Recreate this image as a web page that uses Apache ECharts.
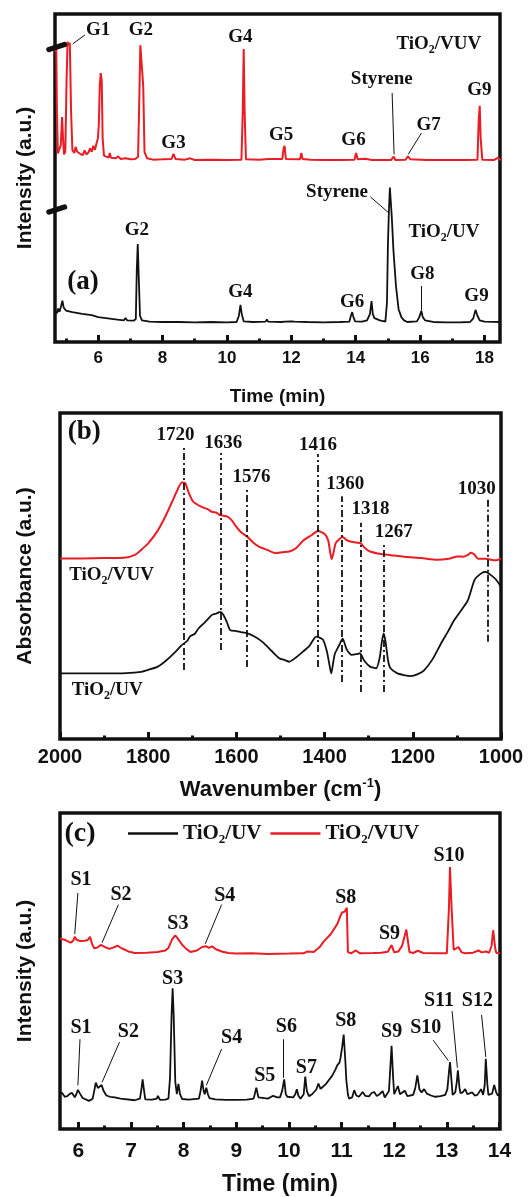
<!DOCTYPE html>
<html>
<head>
<meta charset="utf-8">
<script src="https://cdn.jsdelivr.net/npm/echarts@6/dist/echarts.min.js"></script>
<style>
  html, body { margin: 0; padding: 0; background: #fff; }
  #chart { width: 528px; height: 1197px; }
</style>
</head>
<body>
<div id="chart"></div>
<script>
// ---------- (a) GC chromatograms: [time (min), intensity (a.u.)] ----------
const gcVuv = [
  [4.66, 88.5], [4.70, 89.6], [4.72, 70], [4.75, 57.5], [4.80, 57], [4.84, 60], [4.88, 68.6], [4.91, 62],
  [4.94, 57.2], [4.98, 58], [5.02, 80], [5.05, 91.5], [5.09, 90.5], [5.12, 91.2], [5.16, 70], [5.20, 58.5],
  [5.26, 57.6], [5.30, 59.5], [5.35, 58], [5.45, 57.3], [5.52, 57], [5.58, 58.4], [5.63, 57.2], [5.70, 57.8],
  [5.75, 59], [5.80, 58], [5.85, 59.8], [5.90, 58.6], [5.95, 60.5], [5.99, 62], [6.02, 66], [6.05, 78],
  [6.08, 82], [6.11, 80], [6.14, 62], [6.18, 56.8], [6.25, 56.5], [6.33, 56.2], [6.36, 57.6], [6.40, 56.2],
  [6.55, 56], [6.62, 56.6], [6.70, 55.8], [6.85, 56], [7.0, 55.7], [7.15, 55.8], [7.24, 56.5], [7.28, 75],
  [7.31, 90.5], [7.37, 90.5], [7.40, 78], [7.44, 58], [7.52, 56], [7.7, 55.6], [8.0, 55.7], [8.28, 55.8],
  [8.34, 57.4], [8.40, 55.8], [8.7, 55.6], [8.86, 56], [9.0, 55.5], [9.5, 55.6], [10.0, 55.5], [10.45, 55.6],
  [10.49, 70], [10.52, 89.3], [10.55, 70], [10.59, 55.7], [11.0, 55.6], [11.3, 55.8], [11.72, 55.8],
  [11.76, 59], [11.79, 59.8], [11.83, 55.8], [12.27, 55.7], [12.31, 57.6], [12.35, 55.8], [12.6, 55.6],
  [13.0, 55.5], [13.5, 55.5], [13.96, 55.6], [14.01, 57.6], [14.06, 55.7], [14.3, 55.9], [14.5, 55.5],
  [15.1, 55.5], [15.18, 56.5], [15.23, 55.5], [15.55, 55.6], [15.62, 56.6], [15.7, 55.7], [16.2, 55.5],
  [16.8, 55.5], [17.4, 55.5], [17.78, 55.6], [17.82, 68], [17.85, 72], [17.88, 62], [17.93, 55.6],
  [18.3, 55.5], [18.42, 56.2], [18.5, 55.4]
];
const gcUv = [
  [4.66, 9.5], [4.72, 8.8], [4.76, 10.2], [4.80, 9.2], [4.85, 11], [4.89, 12.6], [4.93, 10.5], [5.0, 9.6],
  [5.2, 9.1], [5.5, 8.6], [5.8, 8.2], [6.0, 7.6], [6.3, 7.2], [6.6, 6.8], [6.8, 6.6], [6.85, 7.3], [6.9, 6.6],
  [7.1, 6.5], [7.17, 7], [7.2, 22], [7.23, 29.9], [7.26, 20], [7.30, 8], [7.36, 6.6], [7.6, 6.2], [8.0, 6.1],
  [8.5, 6.1], [9.0, 6.0], [9.5, 6.1], [10.0, 6.0], [10.3, 6.1], [10.37, 8], [10.42, 11.3], [10.46, 8.5],
  [10.52, 6.3], [10.8, 6.1], [11.2, 6.2], [11.24, 6.9], [11.28, 6.2], [11.7, 6.1], [11.75, 6.6], [11.8, 6.2],
  [12.0, 6.3], [12.05, 6.7], [12.1, 6.2], [12.5, 6.1], [13.0, 6.0], [13.5, 6.1], [13.8, 6.2], [13.85, 8],
  [13.89, 9.1], [13.93, 7.5], [13.98, 6.3], [14.2, 6.2], [14.35, 6.6], [14.38, 6.3], [14.44, 8.5],
  [14.49, 12.5], [14.53, 8.5], [14.58, 7.3], [14.75, 6.6], [14.92, 6.2], [14.97, 12], [15.0, 30],
  [15.03, 40], [15.06, 47.1], [15.09, 47.1], [15.12, 38], [15.17, 28], [15.25, 17], [15.33, 10],
  [15.42, 7.5], [15.5, 6.6], [15.6, 6.1], [15.9, 6.3], [15.97, 7.5], [16.01, 7.8], [16.04, 9.5],
  [16.08, 7.6], [16.15, 6.6], [16.4, 6.1], [16.8, 6.0], [17.2, 6.0], [17.55, 6.1], [17.65, 7.2],
  [17.72, 9.8], [17.78, 8], [17.85, 6.6], [18.0, 6.2], [18.5, 6.1]
];

// ---------- (b) FTIR spectra: [wavenumber (cm-1), absorbance (a.u.)] ----------
const irVuv = [
  [2000, 55.4], [1950, 55.4], [1900, 55.5], [1855, 55.6], [1830, 56.5], [1816, 58], [1800, 60], [1778, 64],
  [1762, 68], [1747, 72.4], [1735, 76], [1724, 78.7], [1716, 78.5], [1708, 75.5], [1698, 72.8], [1679, 71.2],
  [1665, 70.5], [1656, 69.7], [1645, 69.4], [1637, 68.7], [1620, 68.2], [1610, 67], [1603, 65.6],
  [1590, 63.5], [1575, 62], [1562, 60.3], [1549, 59], [1530, 58], [1511, 57], [1495, 57.3], [1480, 57.5],
  [1465, 58.5], [1449, 60.8], [1430, 62.5], [1415, 63.8], [1400, 62.9], [1392, 61], [1387, 57],
  [1384, 55.2], [1380, 57], [1375, 60], [1365, 61.5], [1359, 62], [1350, 61], [1339, 60.5], [1325, 60.2],
  [1318, 60], [1308, 58.5], [1297, 57.5], [1275, 56.8], [1250, 56.4], [1220, 55.9], [1180, 55.5],
  [1145, 55], [1115, 55.4], [1099, 56], [1085, 55.9], [1075, 56.5], [1068, 57.1], [1060, 56.5],
  [1052, 55.3], [1035, 55.3], [1020, 54.9], [1010, 54.8], [1000, 55.4]
];
const irUv = [
  [2000, 20.1], [1900, 20.1], [1850, 20.2], [1816, 20.6], [1800, 21.2], [1778, 22.2], [1760, 24],
  [1740, 26.5], [1724, 28.8], [1712, 30], [1705, 31.5], [1695, 32.2], [1686, 33.9], [1670, 36], [1656, 38],
  [1645, 38.5], [1637, 39], [1630, 38.2], [1622, 36], [1614, 33.4], [1600, 33.1], [1590, 32.8],
  [1575, 32.4], [1560, 31.5], [1541, 29.8], [1520, 27], [1503, 24.8], [1490, 24.2], [1480, 23.7],
  [1465, 25], [1449, 26.8], [1435, 28.5], [1419, 31.4], [1404, 30.5], [1395, 27], [1390, 23.5],
  [1385, 20.1], [1381, 23], [1377, 26], [1368, 28.5], [1359, 30.8], [1350, 27.5], [1339, 25.8],
  [1328, 26], [1320, 26.3], [1310, 24], [1297, 22.2], [1283, 21.7], [1275, 25], [1270, 30], [1266, 32.4],
  [1262, 30], [1256, 24], [1251, 21.8], [1236, 20.2], [1220, 19.6], [1205, 19.3], [1190, 19.8],
  [1175, 21], [1155, 24.5], [1136, 29.3], [1120, 33], [1106, 36.5], [1090, 39.5], [1075, 42.6],
  [1060, 48.8], [1048, 50.5], [1036, 51.3], [1025, 50.5], [1012, 49], [1000, 46.7]
];
const irBands = [1720, 1636, 1576, 1416, 1360, 1318, 1267, 1030];

// ---------- (c) GC chromatograms: [time (min), intensity (a.u.)] ----------
const gc2Vuv = [
  [5.65, 60.3], [5.75, 59.8], [5.85, 59], [5.90, 59.5], [5.93, 60.8], [5.97, 59.8], [6.04, 59.5],
  [6.12, 59.6], [6.18, 59.8], [6.22, 60.8], [6.26, 58.5], [6.30, 57.2], [6.36, 57.4], [6.43, 58.3],
  [6.50, 57.6], [6.59, 57], [6.66, 57.4], [6.74, 58], [6.82, 57.2], [6.95, 56.2], [7.07, 55.7], [7.3, 55.8],
  [7.5, 56], [7.65, 56.5], [7.71, 57.3], [7.78, 60], [7.84, 61.3], [7.90, 60], [7.97, 58.3], [8.05, 57],
  [8.13, 56], [8.25, 56.5], [8.35, 57.6], [8.43, 57.8], [8.48, 57.3], [8.54, 57.8], [8.62, 56.8],
  [8.74, 56.1], [8.85, 55.7], [8.99, 55.5], [9.3, 55.6], [9.6, 55.4], [10.0, 55.5], [10.28, 55.6],
  [10.35, 56.2], [10.47, 56], [10.58, 57.5], [10.66, 59.3], [10.80, 61.8], [10.92, 64.9], [10.98, 67.5],
  [11.01, 68.5], [11.06, 68.8], [11.10, 70], [11.12, 56], [11.18, 55.6], [11.27, 56.5], [11.35, 55.6],
  [11.6, 55.7], [11.75, 55.8], [11.88, 56.1], [11.95, 58.2], [12.0, 55.9], [12.08, 56.2], [12.15, 58],
  [12.23, 63.1], [12.29, 56], [12.36, 55.7], [12.45, 56.4], [12.55, 55.7], [12.8, 55.6], [13.0, 55.6],
  [13.04, 70], [13.06, 82.9], [13.09, 70], [13.13, 56.7], [13.22, 57.6], [13.28, 55.9], [13.35, 55.6],
  [13.5, 55.8], [13.6, 56.5], [13.66, 55.9], [13.75, 56.2], [13.8, 55.7], [13.85, 58], [13.88, 62.9],
  [13.92, 57], [13.94, 55.8], [14.01, 55.6]
];
const gc2Uv = [
  [5.65, 11.4], [5.69, 11.4], [5.74, 10.2], [5.79, 10.4], [5.84, 11.2], [5.88, 11.4], [5.93, 10], [5.96, 11],
  [5.99, 12.4], [6.03, 11.2], [6.08, 9.8], [6.2, 8.9], [6.27, 9.6], [6.30, 12], [6.33, 14.7], [6.37, 13],
  [6.40, 12.6], [6.44, 13.9], [6.48, 12], [6.53, 10.6], [6.6, 10.2], [6.69, 10], [6.8, 9.6], [7.07, 9.1],
  [7.17, 9.6], [7.2, 13], [7.22, 15.7], [7.24, 13], [7.27, 9.4], [7.4, 9.3], [7.49, 9.6], [7.51, 10.5],
  [7.55, 9.2], [7.65, 9.3], [7.71, 9.6], [7.74, 16], [7.77, 36], [7.79, 44.5], [7.81, 36], [7.84, 15],
  [7.87, 11], [7.90, 14.3], [7.93, 11], [7.97, 9.5], [8.1, 9.3], [8.29, 9.6], [8.32, 12], [8.35, 15.3],
  [8.38, 12], [8.4, 11], [8.43, 13.1], [8.46, 11], [8.49, 9.8], [8.6, 9.4], [8.8, 9.2], [9.0, 9.2],
  [9.2, 9.3], [9.33, 9.6], [9.38, 13.1], [9.42, 10], [9.45, 9.4], [9.6, 9.6], [9.7, 10.5], [9.78, 10],
  [9.83, 10], [9.87, 12], [9.91, 15.7], [9.94, 11], [9.97, 10.2], [10.08, 10], [10.12, 11], [10.15, 12.6],
  [10.18, 10.5], [10.22, 9.6], [10.28, 11], [10.31, 16.6], [10.34, 12], [10.38, 10.4], [10.44, 11],
  [10.47, 11.6], [10.52, 12.5], [10.56, 14.4], [10.6, 12.7], [10.64, 13.3], [10.7, 14.2], [10.76, 15.5],
  [10.82, 16.8], [10.88, 18.7], [10.92, 20.2], [10.96, 21], [10.98, 22.5], [11.01, 25.8], [11.04, 29.9],
  [11.07, 22], [11.09, 15.5], [11.12, 11], [11.14, 9.6], [11.2, 10], [11.24, 12.3], [11.28, 10.6],
  [11.33, 10.2], [11.4, 11.7], [11.45, 10.5], [11.52, 10.3], [11.57, 11.4], [11.62, 11.7], [11.67, 10.4],
  [11.72, 11], [11.78, 12], [11.82, 10], [11.85, 9.6], [11.9, 12], [11.95, 26.3], [11.98, 16], [12.0, 11],
  [12.04, 12.5], [12.07, 13.6], [12.11, 11], [12.14, 10.8], [12.2, 12.1], [12.25, 10.4], [12.3, 10.6],
  [12.36, 10.8], [12.4, 13], [12.44, 17], [12.48, 12.5], [12.52, 11.6], [12.57, 12.6], [12.62, 11.2],
  [12.7, 10.6], [12.78, 10.2], [12.88, 10.4], [12.97, 10.8], [13.01, 12.6], [13.04, 18], [13.06, 21.2],
  [13.09, 15], [13.11, 10.8], [13.16, 11.6], [13.19, 15], [13.21, 18.6], [13.24, 13], [13.26, 11.3],
  [13.3, 11.6], [13.35, 12.6], [13.39, 11], [13.42, 10.8], [13.48, 11.6], [13.53, 10.6], [13.58, 10.8],
  [13.65, 12.6], [13.69, 10.8], [13.72, 14], [13.74, 22.2], [13.77, 14], [13.79, 10.8], [13.86, 11.2],
  [13.9, 13.9], [13.94, 11.5], [13.97, 10.6], [14.01, 11]
];

// ---------- tick values ----------
const ticksA = [6, 8, 10, 12, 14, 16, 18];
const minorTicksA = [5, 7, 9, 11, 13, 15, 17];
const ticksB = [2000, 1800, 1600, 1400, 1200, 1000];
const minorTicksB = [1900, 1700, 1500, 1300, 1100];
const ticksC = [6, 7, 8, 9, 10, 11, 12, 13, 14];
const minorTicksC = [6.5, 7.5, 8.5, 9.5, 10.5, 11.5, 12.5, 13.5];

// ---------- peak names ----------
const peaksVuvA = ['G1', 'G2', 'G3', 'G4', 'G5', 'G6', 'Styrene', 'G7', 'G9'];
const peaksUvA = ['Styrene', 'G2', 'G4', 'G6', 'G8', 'G9'];
const peaksVuvC = ['S1', 'S2', 'S3', 'S4', 'S8', 'S9', 'S10'];
const peaksUvC = ['S3', 'S1', 'S2', 'S4', 'S5', 'S6', 'S7', 'S8', 'S9', 'S10', 'S11', 'S12'];
const UV = 'TiO2/UV', VUV = 'TiO2/VUV';

// ---------- drawing ----------
const SERIF = '"Liberation Serif", "Times New Roman", serif';
const SANS = '"Liberation Sans", Arial, sans-serif';
const INK = '#111111';
const RED = '#ea1c24';

// label anchors (axis units) in the same order as the peak-name lists
const posVuvA = [[6.0, 95.1], [7.33, 95.1], [8.34, 60.7], [10.42, 93], [11.68, 63.1], [13.93, 61.6], [14.81, 80.2], [16.26, 66.2], [17.84, 76.8]];
const posUvA = [[13.42, 45.7], [7.2, 34.1], [10.42, 15.2], [13.89, 12.2], [16.07, 20.7], [17.75, 14]];
const arrowsA = [[[5.59, 93.6], [5.21, 90.9]], [[15.13, 75.9], [15.19, 57.2]], [[16.04, 63.7], [15.63, 57.2]],
                 [[14.46, 44.2], [15.0, 39.6]], [[16.04, 17.1], [16.04, 9.6]]];
const posBands = [[1738, 93.3], [1630, 90.8], [1566, 80.4], [1415, 90.2], [1353, 78.2], [1296, 70.6], [1243, 63.5], [1055, 76.7]];
const bandSpan = [[21.2, 89.3], [27.3, 87.7], [22.1, 77], [22.1, 87.4], [17.5, 74.5], [14.4, 66.3], [14.4, 59.5], [29.8, 74.2]];
const posVuvC = [[6.05, 78.7], [6.81, 74.1], [7.89, 64.8], [8.78, 73.8], [11.08, 73.1], [11.91, 61.7], [13.04, 86.4]];
const posUvC = [[7.79, 47.5], [6.05, 32.1], [6.95, 30.6], [8.91, 29], [9.54, 16.7], [9.95, 32.4], [10.33, 19.4],
                [11.08, 34.3], [11.95, 30.9], [12.6, 32.1], [12.85, 40.7], [13.58, 40.7]];
const arrowsC = [[[5.99, 74.7], [5.93, 61.7]], [[6.76, 71], [6.45, 59]], [[8.72, 71], [8.41, 58.6]],
                 [[6.03, 28.4], [5.99, 13.8]], [[6.78, 27.5], [6.45, 14.8]], [[8.72, 25.3], [8.43, 13.8]],
                 [[9.89, 28.4], [9.89, 16.2]], [[12.74, 28.1], [13.03, 21.6]], [[13.1, 37.3], [13.2, 19.4]],
                 [[13.66, 36.1], [13.74, 22.8]]];

const sub = t => t.replace('2', '{s|2}');
function subRich(size) {
  return { s: { fontSize: Math.round(size * 0.64), fontFamily: SERIF, fontWeight: 'bold', color: INK, opacity: 1,
                padding: [Math.round(size * 0.62), 0, 0, 0] } };
}
function note(x, y, text, size) {
  const item = { value: [x, y], text: text };
  if (size) item.label = { fontSize: size, lineHeight: size + 6 };
  return item;
}
function noteSeries(idx, items, size, lines) {
  return {
    type: 'scatter', name: 'notes' + idx, xAxisIndex: idx * 2, yAxisIndex: idx,
    symbolSize: 0, silent: true, z: 10, animation: false,
    itemStyle: { opacity: 1, color: INK },
    data: items,
    label: {
      show: true, position: 'inside', formatter: p => p.data.text, opacity: 1,
      fontFamily: SERIF, fontWeight: 'bold', fontSize: size, lineHeight: size + 6, color: INK,
      textBorderWidth: 0, rich: subRich(size)
    },
    markLine: lines
  };
}
function arrowLines(list) {
  return {
    silent: true, animation: false, symbol: ['none', 'arrow'], symbolSize: [0, 6],
    label: { show: false }, emphasis: { disabled: true },
    lineStyle: { color: INK, width: 1, type: 'solid', opacity: 1 },
    data: list.map(([a, b]) => [{ coord: a }, { coord: b }])
  };
}

const grids = [
  { left: 55, top: 14, width: 445, height: 328 },
  { left: 60, top: 413, width: 441, height: 326 },
  { left: 60, top: 813, width: 440, height: 326 }
];
grids.forEach(g => Object.assign(g, { show: true, borderColor: INK, borderWidth: 3.5, backgroundColor: 'transparent' }));

function xMain(gi, min, max, ticks, fontSize, margin, name, nameGap, inverse, nameRich) {
  return {
    gridIndex: gi, type: 'value', position: 'bottom', min, max, inverse: !!inverse,
    axisLine: { show: false }, splitLine: { show: false },
    axisTick: { show: true, inside: true, length: 7, customValues: ticks, lineStyle: { color: INK, width: 3 } },
    axisLabel: { show: true, customValues: ticks, margin, formatter: v => String(v),
                 fontFamily: SANS, fontWeight: 'bold', fontSize, color: INK },
    name, nameLocation: 'middle', nameGap,
    nameTextStyle: Object.assign({ fontFamily: SANS, fontWeight: 'bold', fontSize: fontSize + 2, color: INK }, nameRich || {})
  };
}
function xMinor(gi, min, max, ticks, inverse) {
  return {
    gridIndex: gi, type: 'value', position: 'bottom', min, max, inverse: !!inverse,
    axisLine: { show: false }, splitLine: { show: false }, axisLabel: { show: false },
    axisTick: { show: true, inside: true, length: 3.5, customValues: ticks, lineStyle: { color: INK, width: 3 } }
  };
}
function yAxis(gi, name, nameGap) {
  return {
    gridIndex: gi, type: 'value', min: 0, max: 100,
    axisLine: { show: false }, axisTick: { show: false }, axisLabel: { show: false }, splitLine: { show: false },
    name, nameLocation: 'middle', nameGap,
    nameTextStyle: { fontFamily: SANS, fontWeight: 'bold', fontSize: 21, color: INK }
  };
}
function trace(name, gi, data, color, width, smooth) {
  return {
    type: 'line', name, xAxisIndex: gi * 2, yAxisIndex: gi, data, showSymbol: false, symbol: 'none',
    smooth: smooth || false, animation: false, silent: true,
    lineStyle: { color, width }, itemStyle: { color }
  };
}

// annotation items
const notesA = [].concat(
  peaksVuvA.map((t, i) => note(posVuvA[i][0], posVuvA[i][1], t)),
  peaksUvA.map((t, i) => note(posUvA[i][0], posUvA[i][1], t)),
  [note(16.58, 90.9, sub(VUV)), note(16.74, 33.5, sub(UV)), note(5.53, 18.3, '(a)', 27)]
);
const notesB = [].concat(
  irBands.map((b, i) => note(posBands[i][0], posBands[i][1], String(b))),
  [note(1883, 50.3, sub(VUV)), note(1893, 15, sub(UV)), note(1945, 94.2, '(b)', 27)]
);
const notesC = [].concat(
  peaksVuvC.map((t, i) => note(posVuvC[i][0], posVuvC[i][1], t)),
  peaksUvC.map((t, i) => note(posUvC[i][0], posUvC[i][1], t)),
  [note(6.03, 93.5, '(c)', 28)]
);
const bandLines = {
  silent: true, animation: false, symbol: 'none', label: { show: false }, emphasis: { disabled: true },
  lineStyle: { color: INK, width: 1.8, type: [7, 3, 2, 3], opacity: 1 },
  data: irBands.map((b, i) => [{ coord: [b, bandSpan[i][0]] }, { coord: [b, bandSpan[i][1]] }])
};

const option = {
  backgroundColor: '#fff',
  animation: false,
  grid: grids,
  legend: {
    data: [UV, VUV], left: 128, top: 820, padding: 0, icon: 'rect',
    itemWidth: 50, itemHeight: 2.5, itemGap: 9, selectedMode: false,
    formatter: n => sub(n),
    textStyle: { fontFamily: SERIF, fontWeight: 'bold', fontSize: 21, lineHeight: 27, color: INK, rich: subRich(21) }
  },
  xAxis: [
    xMain(0, 4.66, 18.48, ticksA, 17, 8, 'Time (min)', 45),
    xMinor(0, 4.66, 18.48, minorTicksA),
    xMain(1, 1000, 2000, ticksB, 20, 8, 'Wavenumber (cm{sup|-1})', 37, true,
          { lineHeight: 28, rich: { sup: { fontSize: 13, fontFamily: SANS, fontWeight: 'bold', color: INK, padding: [0, 0, 14, 0] } } }),
    xMinor(1, 1000, 2000, minorTicksB, true),
    xMain(2, 5.65, 14.01, ticksC, 21, 12, 'Time (min)', 44),
    xMinor(2, 5.65, 14.01, minorTicksC)
  ],
  yAxis: [
    yAxis(0, 'Intensity (a.u.)', 19),
    yAxis(1, 'Absorbance (a.u.)', 24),
    yAxis(2, 'Intensity (a.u.)', 24)
  ],
  series: [
    trace(VUV, 0, gcVuv, RED, 2),
    trace(UV, 0, gcUv, INK, 1.8),
    trace(VUV, 1, irVuv, RED, 2, 0.2),
    trace(UV, 1, irUv, INK, 1.8, 0.2),
    trace(UV, 2, gc2Uv, INK, 1.8),
    trace(VUV, 2, gc2Vuv, RED, 2),
    noteSeries(0, notesA, 19, arrowLines(arrowsA)),
    noteSeries(1, notesB, 19, bandLines),
    noteSeries(2, notesC, 20, arrowLines(arrowsC))
  ],
  graphic: [
    // axis-break marks on the left axis of panel (a)
    { type: 'line', shape: { x1: 49, y1: 49.5, x2: 64.5, y2: 44.5 }, style: { stroke: INK, lineWidth: 5.5, lineCap: 'round' }, z: 20 },
    { type: 'line', shape: { x1: 49, y1: 212, x2: 64.5, y2: 207 }, style: { stroke: INK, lineWidth: 5.5, lineCap: 'round' }, z: 20 }
  ]
};

const chart = echarts.init(document.getElementById('chart'), null, { renderer: 'canvas' });
chart.setOption(option);
</script>
</body>
</html>
